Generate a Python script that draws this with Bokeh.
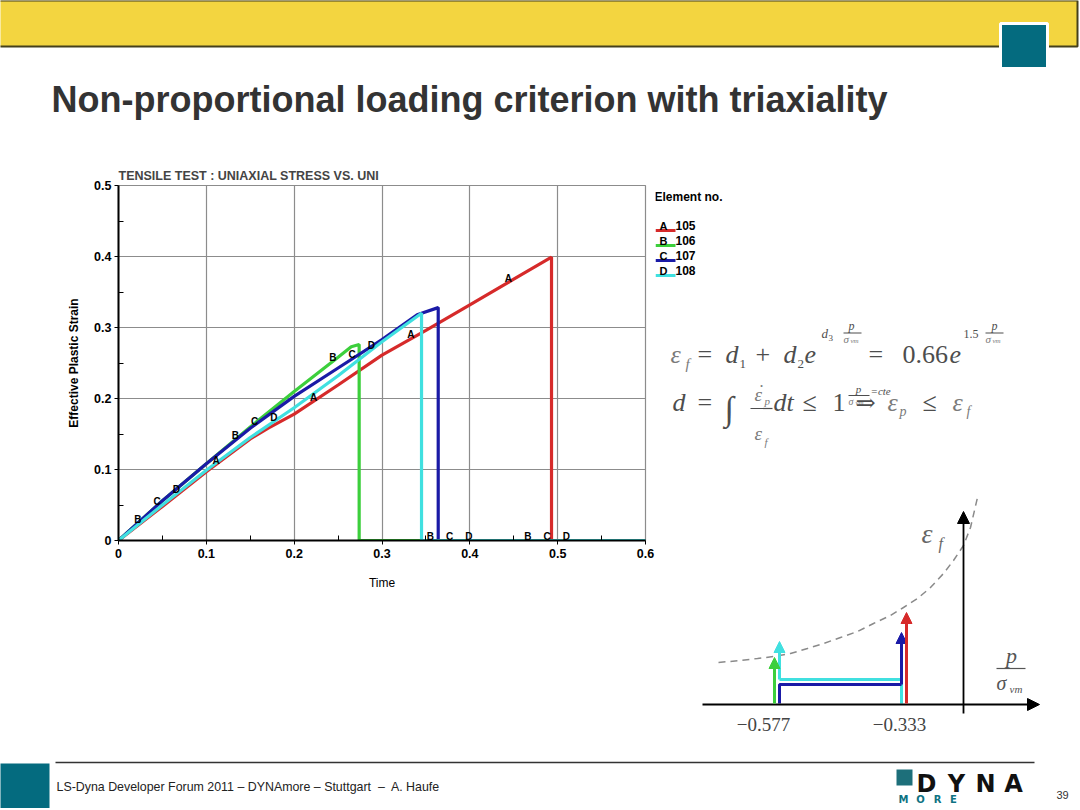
import numpy as np
from bokeh.plotting import figure
from bokeh.layouts import column, row
from bokeh.models import Range1d, FixedTicker, Arrow, NormalHead, NumeralTickFormatter
from bokeh.core.properties import value
from bokeh.embed import file_html
from bokeh.resources import INLINE

# ---------------- data ----------------
element_letters = ["A", "B", "C", "D"]
element_ids = ["105", "106", "107", "108"]
element_colors = ["#d62a2a", "#3ccf3c", "#1a1aa6", "#40e0e0"]

time_A = [0.0, 0.05, 0.10, 0.15, 0.17, 0.20, 0.25, 0.30, 0.35, 0.40, 0.45, 0.493, 0.493, 0.60]
strain_A = [0.0, 0.048, 0.097, 0.143, 0.158, 0.178, 0.219, 0.261, 0.296, 0.332, 0.368, 0.399, 0.0, 0.0]

time_B = [0.0, 0.05, 0.10, 0.15, 0.20, 0.25, 0.265, 0.274, 0.274, 0.60]
strain_B = [0.0, 0.056, 0.108, 0.160, 0.210, 0.258, 0.273, 0.276, 0.0, 0.0]

time_C = [0.0, 0.05, 0.10, 0.15, 0.20, 0.25, 0.30, 0.34, 0.364, 0.364, 0.60]
strain_C = [0.0, 0.056, 0.108, 0.158, 0.203, 0.243, 0.283, 0.318, 0.328, 0.0, 0.0]

time_D = [0.0, 0.05, 0.10, 0.15, 0.20, 0.25, 0.30, 0.345, 0.345, 0.60]
strain_D = [0.0, 0.050, 0.099, 0.145, 0.187, 0.232, 0.280, 0.320, 0.0, 0.0]

marker_t_A = [0.111, 0.222, 0.333, 0.444]
marker_t_B = [0.022, 0.133, 0.244, 0.355, 0.466]
marker_t_C = [0.044, 0.155, 0.266, 0.377, 0.488]
marker_t_D = [0.066, 0.177, 0.288, 0.399, 0.510]

x_ticks = [0.0, 0.1, 0.2, 0.3, 0.4, 0.5, 0.6]
x_tick_labels = ["0", "0.1", "0.2", "0.3", "0.4", "0.5", "0.6"]
x_minor = [0.05, 0.15, 0.25, 0.35, 0.45, 0.55]
y_ticks = [0.0, 0.1, 0.2, 0.3, 0.4, 0.5]
y_tick_labels = ["0", "0.1", "0.2", "0.3", "0.4", "0.5"]
y_minor = [0.05, 0.15, 0.25, 0.35, 0.45]

# schematic failure curve (drawing coordinates of the sketch, px)
sketch_curve_x = [718, 740, 757, 773, 790, 807, 823, 840, 857, 873, 890, 903, 917, 930, 943, 953, 963, 970, 977]
sketch_curve_y = [662, 660, 658, 656, 653, 648, 643, 637, 631, 623, 615, 607, 598, 587, 573, 560, 545, 527, 497]
sketch_tick_labels = ["\u22120.577", "\u22120.333"]

SANS = "Liberation Sans"
SERIF = "Liberation Serif"


def no_align(f):
    try:
        f.frame_align = False
    except Exception:
        pass


def pix_fig(x0, x1, y0, y1):
    p = figure(width=int(x1 - x0), height=int(y1 - y0),
               x_range=Range1d(x0, x1), y_range=Range1d(y1, y0),
               output_backend="svg", toolbar_location=None, min_border=0,
               x_axis_location=None, y_axis_location=None, outline_line_color=None,
               background_fill_color="white", border_fill_color="white")
    p.grid.grid_line_color = None
    no_align(p)
    return p


def txt(p, x, y, s, size, font=SANS, style="normal", color="black",
        align="left", baseline="alphabetic"):
    # y given as the text baseline; convert to a middle anchor
    if baseline == "alphabetic":
        y = y - 0.35 * size
        baseline = "middle"
    p.text(x=[x], y=[y], text=[s], text_font=value(font), text_font_size=f"{size}px",
           text_font_style=style, text_color=color, text_align=align, text_baseline=baseline)


# ---------------- header ----------------
hdr = pix_fig(0, 1080, 0, 160)
hdr.quad(left=[-5], right=[1077], top=[0], bottom=[46], fill_color="#F3D540",
         line_color="#45401c", line_width=2)
hdr.quad(left=[1000], right=[1047], top=[23], bottom=[68], fill_color="#046B7F",
         line_color="white", line_width=3)
txt(hdr, 51, 112, "Non-proportional loading criterion with triaxiality", 36,
    style="bold", color="#333333")

# ---------------- chart ----------------
ch = figure(width=655, height=590, x_range=Range1d(0, 0.6), y_range=Range1d(0, 0.5),
            output_backend="svg", toolbar_location=None,
            min_border_left=118, min_border_right=10, min_border_top=25, min_border_bottom=210,
            title="TENSILE TEST : UNIAXIAL STRESS VS. UNI",
            background_fill_color="white", border_fill_color="white")
no_align(ch)
ch.title.align = "left"
ch.title.text_font = SANS
ch.title.text_font_size = "12.5px"
ch.title.text_font_style = "bold"
ch.title.standoff = 6
ch.outline_line_color = "#8c8c8c"
ch.outline_line_width = 1.2
ch.grid.grid_line_color = "#8c8c8c"
ch.grid.grid_line_width = 1.2

ch.xaxis.ticker = FixedTicker(ticks=x_ticks, minor_ticks=x_minor)
ch.yaxis.ticker = FixedTicker(ticks=y_ticks, minor_ticks=y_minor)
ch.xaxis.formatter = NumeralTickFormatter(format="0.[0]")
ch.yaxis.formatter = NumeralTickFormatter(format="0.[0]")
ch.xaxis.major_label_overrides = dict(zip(x_ticks, x_tick_labels))
ch.yaxis.major_label_overrides = dict(zip(y_ticks, y_tick_labels))
ch.xaxis.axis_label = "Time"
ch.yaxis.axis_label = "Effective Plastic Strain"
for ax in (ch.xaxis, ch.yaxis):
    ax.axis_line_color = "black"
    ax.axis_line_width = 2
    ax.major_tick_in = 0
    ax.major_tick_out = 4
    ax.minor_tick_in = 5
    ax.minor_tick_out = 0
    ax.major_tick_line_color = "black"
    ax.minor_tick_line_color = "black"
    ax.major_label_text_font = SANS
    ax.major_label_text_font_size = "12.5px"
    ax.major_label_text_font_style = "bold"
    ax.major_label_text_color = "black"
    ax.axis_label_text_font = SANS
    ax.axis_label_text_font_size = "12px"
    ax.axis_label_text_color = "black"
ch.yaxis.axis_label_text_font_style = "bold"
ch.xaxis.axis_label_text_font_style = "normal"
ch.yaxis.major_label_standoff = 3
ch.xaxis.major_label_standoff = 4
ch.yaxis.axis_label_standoff = 10
ch.xaxis.axis_label_standoff = 15

series = [(time_A, strain_A, marker_t_A), (time_B, strain_B, marker_t_B),
          (time_C, strain_C, marker_t_C), (time_D, strain_D, marker_t_D)]
for (tt, ss, _), col in zip(series, element_colors):
    ch.line(tt, ss, line_color=col, line_width=3.2)
for (tt, ss, mt), letter in zip(series, element_letters):
    my = np.interp(mt, tt, ss)
    ch.text(x=mt, y=list(my), text=[letter] * len(mt), text_font=value(SANS),
            text_font_size="10px", text_font_style="bold", text_color="black",
            text_align="center", text_baseline="middle", y_offset=-4)

# ---------------- right panel ----------------
rp = pix_fig(655, 1080, 160, 750)
# legend
txt(rp, 654, 196, "Element no.", 12, style="bold", baseline="middle")
for i, (letter, eid, col) in enumerate(zip(element_letters, element_ids, element_colors)):
    yc = 225 + 15 * i
    rp.segment(x0=[655], y0=[yc + 5], x1=[675], y1=[yc + 5], line_color=col, line_width=3)
    txt(rp, 663, yc, letter, 11, style="bold", align="center", baseline="middle")
    txt(rp, 675, yc, eid, 12, style="bold", baseline="middle")

MC = "#4d4d4d"
EC = "#7a7a7a"
# formula 1
b1 = 363
txt(rp, 670, b1, "\u03b5", 26, SERIF, "italic", EC)
txt(rp, 685, b1 + 6, "f", 15, SERIF, "italic", EC)
txt(rp, 697, b1, "=", 26, SERIF, "normal", MC)
txt(rp, 725, b1, "d", 26, SERIF, "italic", MC)
txt(rp, 739, b1 + 5, "1", 13, SERIF, "normal", MC)
txt(rp, 755, b1, "+", 26, SERIF, "normal", MC)
txt(rp, 783, b1, "d", 26, SERIF, "italic", MC)
txt(rp, 797, b1 + 5, "2", 13, SERIF, "normal", MC)
txt(rp, 804, b1, "e", 26, SERIF, "italic", MC)
txt(rp, 821, 338, "d", 13, SERIF, "italic", MC)
txt(rp, 828, 341, "3", 9, SERIF, "normal", MC)
txt(rp, 851, 330, "p", 12, SERIF, "italic", MC, align="center")
rp.segment(x0=[843], y0=[332.5], x1=[861], y1=[332.5], line_color=MC, line_width=1)
txt(rp, 843, 342, "\u03c3", 11, SERIF, "italic", EC)
txt(rp, 850, 343, "vm", 7, SERIF, "italic", EC)
txt(rp, 868, b1, "=", 26, SERIF, "normal", MC)
txt(rp, 902, b1, "0.66", 26, SERIF, "normal", MC)
txt(rp, 949, b1, "e", 26, SERIF, "italic", MC)
txt(rp, 963, 338, "1.5", 12, SERIF, "normal", MC)
txt(rp, 994, 330, "p", 12, SERIF, "italic", MC, align="center")
rp.segment(x0=[985], y0=[332.5], x1=[1003], y1=[332.5], line_color=MC, line_width=1)
txt(rp, 985, 342, "\u03c3", 11, SERIF, "italic", EC)
txt(rp, 992, 343, "vm", 7, SERIF, "italic", EC)

# formula 2
b2 = 411
txt(rp, 672, b2, "d", 26, SERIF, "italic", MC)
txt(rp, 697, b2, "=", 26, SERIF, "normal", MC)
txt(rp, 724, 408, "\u222b", 34, SERIF, "normal", MC, baseline="middle")
txt(rp, 754, 401, "\u03b5", 19, SERIF, "italic", EC)
txt(rp, 758, 398, "\u02d9", 18, SERIF, "normal", EC)
txt(rp, 764, 404, "p", 11, SERIF, "italic", EC)
rp.segment(x0=[750], y0=[408], x1=[772], y1=[408], line_color=MC, line_width=1.2)
txt(rp, 754, 440, "\u03b5", 19, SERIF, "italic", EC)
txt(rp, 764, 445, "f", 11, SERIF, "italic", EC)
txt(rp, 773, b2, "dt", 26, SERIF, "italic", MC)
txt(rp, 802, b2, "\u2264", 26, SERIF, "normal", MC)
txt(rp, 832, b2, "1", 26, SERIF, "normal", MC)
txt(rp, 858, 392, "p", 11, SERIF, "italic", MC, align="center")
rp.segment(x0=[848], y0=[395], x1=[869], y1=[395], line_color=MC, line_width=1)
txt(rp, 848, 404, "\u03c3", 10, SERIF, "italic", EC)
txt(rp, 855, 405, "vm", 7, SERIF, "italic", EC)
txt(rp, 870, 394, "=cte", 11, SERIF, "italic", MC)
txt(rp, 855, b2, "\u21d2", 24, "DejaVu Serif", "normal", MC)
txt(rp, 887, b2, "\u03b5", 26, SERIF, "italic", EC)
txt(rp, 899, b2 + 5, "p", 14, SERIF, "italic", EC)
txt(rp, 922, b2, "\u2264", 26, SERIF, "normal", MC)
txt(rp, 952, b2, "\u03b5", 26, SERIF, "italic", EC)
txt(rp, 966, b2 + 5, "f", 14, SERIF, "italic", EC)

# sketch
rp.line(sketch_curve_x, sketch_curve_y, line_color="#8a8a8a", line_width=1.5, line_dash="7 5")
rp.add_layout(Arrow(end=NormalHead(size=12, fill_color="black", line_color="black"),
                    x_start=702, y_start=704, x_end=1039, y_end=704,
                    line_color="black", line_width=1.8))
rp.add_layout(Arrow(end=NormalHead(size=12, fill_color="black", line_color="black"),
                    x_start=963, y_start=713, x_end=963, y_end=511,
                    line_color="black", line_width=1.8))
txt(rp, 921, 543, "\u03b5", 28, SERIF, "italic", "#666666")
txt(rp, 938, 549, "f", 16, SERIF, "italic", "#666666")
txt(rp, 1011, 663, "p", 22, SERIF, "italic", "#555555", align="center")
rp.segment(x0=[996], y0=[668], x1=[1025], y1=[668], line_color="#555555", line_width=1.2)
txt(rp, 996, 689, "\u03c3", 20, SERIF, "italic", "#555555")
txt(rp, 1009, 692, "vm", 11, SERIF, "italic", "#555555")
txt(rp, 763, 731, sketch_tick_labels[0], 19, SERIF, "normal", "#444444", align="center")
txt(rp, 899, 731, sketch_tick_labels[1], 19, SERIF, "normal", "#444444", align="center")

cR, cG, cB, cC = element_colors


def arrow(x0, y0, x1, y1, col):
    rp.add_layout(Arrow(end=NormalHead(size=11, fill_color=col, line_color=col),
                        x_start=x0, y_start=y0, x_end=x1, y_end=y1,
                        line_color=col, line_width=3))


rp.line([901, 901, 779], [703, 679, 679], line_color=cC, line_width=3)
arrow(779, 679, 779, 641, cC)
rp.line([779, 779, 901], [703, 684, 684], line_color=cB, line_width=3)
arrow(901, 684, 901, 632, cB)
arrow(774, 703, 774, 657, cG)
arrow(906, 703, 906, 612, cR)

# ---------------- footer ----------------
ft = pix_fig(0, 1080, 750, 808)
ft.quad(left=[-5], right=[49], top=[763], bottom=[815], fill_color="#046B7F", line_color=None)
ft.segment(x0=[55], y0=[762], x1=[1034], y1=[762], line_color="#333333", line_width=1.3)
txt(ft, 56, 786, "LS-Dyna Developer Forum 2011 \u2013 DYNAmore \u2013 Stuttgart \u00a0\u2013\u00a0 A. Haufe",
    12.4, color="#222222", baseline="middle")
ft.quad(left=[896], right=[912], top=[769], bottom=[785], fill_color="#1d6f7a", line_color=None)
for ch_, xc in zip("DYNA", [926, 956, 985, 1013]):
    txt(ft, xc, 792, ch_, 24, "DejaVu Sans", "bold", "#111111", align="center")
for ch_, xc in zip("MORE", [903, 920, 937, 953]):
    txt(ft, xc, 802, ch_, 10, "DejaVu Sans", "bold", "#0e7282", align="center")
txt(ft, 1062, 798, "39", 11, color="#333333", align="center")

layout = column(hdr, row(ch, rp, spacing=0), ft, spacing=0)
open("out.html", "w").write(file_html(layout, INLINE, "Non-proportional loading criterion"))
